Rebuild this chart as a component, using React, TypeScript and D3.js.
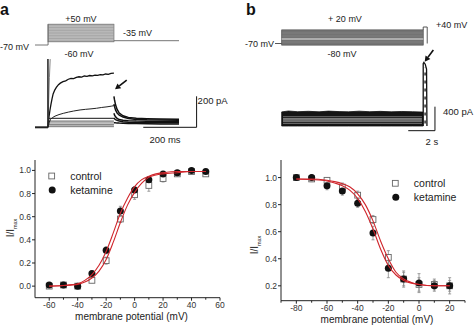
import React from "react";
import * as d3 from "d3";

const FONT = "'Liberation Sans', Arial, Helvetica, sans-serif";

// ---------- Activation curve (panel a, bottom) ----------
const actVoltages = [-60, -50, -40, -30, -20, -10, 0, 10, 20, 30, 40, 50];
const actControl = [0.0, 0.01, 0.0, 0.05, 0.22, 0.58, 0.79, 0.87, 0.93, 0.97, 0.99, 0.97];
const actControlErr = [0.01, 0.01, 0.01, 0.02, 0.03, 0.03, 0.04, 0.05, 0.03, 0.02, 0.01, 0.02];
const actKetamine = [0.01, 0.01, 0.0, 0.11, 0.31, 0.65, 0.83, 0.92, 0.97, 0.98, 1.0, 0.99];
const actKetamineErr = [0.01, 0.01, 0.01, 0.02, 0.03, 0.04, 0.03, 0.02, 0.02, 0.01, 0.01, 0.01];
const actFitVoltages = [-60, -50, -40, -35, -30, -25, -20, -15, -10, -5, 0, 5, 10, 15, 20, 30, 40, 50];
const actFitControl = [0.0, 0.005, 0.015, 0.035, 0.07, 0.13, 0.23, 0.38, 0.55, 0.7, 0.81, 0.89, 0.94, 0.96, 0.97, 0.98, 0.99, 0.99];
const actFitKetamine = [0.0, 0.006, 0.02, 0.05, 0.1, 0.18, 0.3, 0.46, 0.63, 0.76, 0.86, 0.92, 0.95, 0.97, 0.98, 0.99, 0.99, 0.99];
const actXTicks = [-60, -40, -20, 0, 20, 40, 60];
const actXMinor = [-50, -30, -10, 10, 30, 50];
const actYTicks = [0.0, 0.2, 0.4, 0.6, 0.8, 1.0];

// ---------- Inactivation curve (panel b, bottom) ----------
const inactVoltages = [-80, -70, -60, -50, -40, -30, -20, -10, 0, 10, 20];
const inactControl = [1.0, 0.99, 0.98, 0.93, 0.87, 0.69, 0.41, 0.25, 0.21, 0.21, 0.2];
const inactControlErr = [0.01, 0.02, 0.02, 0.03, 0.03, 0.03, 0.05, 0.05, 0.05, 0.04, 0.04];
const inactKetamine = [1.0, 1.0, 0.94, 0.9, 0.81, 0.59, 0.33, 0.25, 0.22, 0.2, 0.2];
const inactKetamineErr = [0.01, 0.02, 0.03, 0.03, 0.03, 0.05, 0.07, 0.06, 0.07, 0.04, 0.06];
const inactFitVoltages = [-80, -70, -60, -55, -50, -45, -40, -35, -30, -25, -20, -15, -10, -5, 0, 10, 20];
const inactFitControl = [0.99, 0.99, 0.98, 0.97, 0.955, 0.93, 0.88, 0.8, 0.68, 0.53, 0.4, 0.3, 0.25, 0.225, 0.21, 0.2, 0.2];
const inactFitKetamine = [0.99, 0.985, 0.975, 0.96, 0.94, 0.905, 0.845, 0.75, 0.62, 0.47, 0.35, 0.28, 0.24, 0.22, 0.21, 0.2, 0.2];
const inactXTicks = [-80, -60, -40, -20, 0, 20];
const inactXMinor = [-90, -70, -50, -30, -10, 10, 30];
const inactYTicks = [0.2, 0.4, 0.6, 0.8, 1.0];

// ---------- Panel a: protocol + current traces ----------
const protoAStepLevels = [-60, -50, -40, -30, -20, -10, 0, 10, 20, 30, 40, 50];
const traceTimes1 = [49, 52, 56, 60, 64, 68, 74, 80, 88, 95, 105, 115, 125, 135, 145, 155, 165, 175, 185, 195, 205, 215, 225, 235, 245, 255, 265, 275, 285, 296];
const trace1 = [0, 60, 110, 150, 185, 215, 240, 258, 275, 285, 295, 300, 310, 316, 314, 322, 326, 324, 331, 329, 334, 332, 337, 335, 340, 338, 344, 342, 348, 350];
const traceTimes2 = [49, 53, 58, 65, 75, 90, 106, 125, 145, 169, 190, 210, 231, 250, 270, 288, 296];
const trace2 = [0, 30, 50, 62, 72, 82, 90, 98, 105, 112, 116, 119, 123, 128, 132, 137, 140];
const fastTimes = [49, 51, 54, 57];
const fastCurrents = [0, 150, 320, 440];
const stepTraceLevels = [58, 40, 28, 18, 10, 4];
const stepTraceColors = ["#111", "#555", "#777", "#888", "#999", "#777"];
const tailTimes = [296, 298, 302, 308, 316, 330, 350, 380, 420, 470, 540];
const tails = [
  [200, 178, 145, 115, 92, 74, 64, 58, 55, 53, 52],
  [150, 135, 112, 92, 78, 66, 57, 51, 48, 47, 46],
  [90, 80, 68, 58, 50, 45, 42, 40, 39, 38, 38],
  [60, 55, 50, 45, 40, 36, 33, 31, 30, 30, 30],
  [30, 30, 29, 28, 27, 26, 25, 24, 23, 22, 22],
];

// ---------- Panel b: protocol + current traces ----------
const protoBStepLevels = [-80, -70, -60, -50, -30, -20, -10, 0, 10, 20];
const bTopTimes = [0, 0.5, 1.2, 2, 2.8, 3.5, 4.3, 5, 5.8, 6.6, 7.4, 8.2, 9, 9.8, 10.6];
const bTop = [235, 250, 238, 245, 236, 248, 240, 236, 247, 238, 244, 236, 242, 238, 232];
const bStripeLevels = [155, 117, 83, 45];
const bStripeColors = ["#777", "#eee", "#ddd", "#888"];
const tailBTimes = [10.6, 10.6, 10.65, 10.75, 10.85, 10.88];
const tailB = [0, 1040, 1060, 1030, 950, 0];

function Arrow({ x1, y1, x2, y2 }: { x1: number; y1: number; x2: number; y2: number }) {
  const a = Math.atan2(y2 - y1, x2 - x1);
  const L = 5.5, W = 3;
  const bx = x2 - L * Math.cos(a), by = y2 - L * Math.sin(a);
  const px = -Math.sin(a) * W, py = Math.cos(a) * W;
  return (
    <g>
      <line x1={x1} y1={y1} x2={bx} y2={by} stroke="#111" strokeWidth={1.6} />
      <polygon points={`${x2},${y2} ${bx + px},${by + py} ${bx - px},${by - py}`} fill="#111" />
    </g>
  );
}

function Chart(props: {
  x: d3.ScaleLinear<number, number>;
  y: d3.ScaleLinear<number, number>;
  xTicks: number[];
  xMinor: number[];
  yTicks: number[];
  volts: number[];
  ctrl: number[];
  ctrlErr: number[];
  ket: number[];
  ketErr: number[];
  fitV: number[];
  fitC: number[];
  fitK: number[];
  legendX: number;
  legendY: number;
  yLabelX: number;
  yLabelY: number;
  titleY: number;
}) {
  const { x, y } = props;
  const [x0, x1] = x.range();
  const [yb, yt] = y.range();
  const line = (vals: number[]) =>
    d3
      .line<number>()
      .x((_, i) => x(props.fitV[i]))
      .y((d) => y(d))
      .curve(d3.curveMonotoneX)(vals) || "";
  const red = "#d0262c";
  const errBars = (vals: number[], errs: number[]) =>
    vals.map((v, i) => {
      const cx = x(props.volts[i]);
      return (
        <g key={i} stroke="#888" strokeWidth={0.8}>
          <line x1={cx} x2={cx} y1={y(v - errs[i])} y2={y(v + errs[i])} />
          <line x1={cx - 1.5} x2={cx + 1.5} y1={y(v - errs[i])} y2={y(v - errs[i])} />
          <line x1={cx - 1.5} x2={cx + 1.5} y1={y(v + errs[i])} y2={y(v + errs[i])} />
        </g>
      );
    });
  const sq = 5.8;
  return (
    <g fontFamily={FONT}>
      {/* axes */}
      <line x1={x0} x2={x0} y1={yt} y2={yb} stroke="#222" strokeWidth={1} />
      <line x1={x0} x2={x1} y1={yb} y2={yb} stroke="#222" strokeWidth={1} />
      {props.yTicks.map((t) => (
        <g key={"y" + t}>
          <line x1={x0 - 3} x2={x0} y1={y(t)} y2={y(t)} stroke="#222" />
          <text x={x0 - 4} y={y(t)} dy="0.35em" textAnchor="end" fontSize={8.5} fill="#333">
            {t.toFixed(1)}
          </text>
        </g>
      ))}
      {props.xTicks.map((t) => (
        <g key={"x" + t}>
          <line x1={x(t)} x2={x(t)} y1={yb} y2={yb + 3} stroke="#222" />
          <text x={x(t)} y={yb + 10.5} textAnchor="middle" fontSize={8.5} fill="#333">
            {t}
          </text>
        </g>
      ))}
      {props.xMinor.map((t) => (
        <line key={"m" + t} x1={x(t)} x2={x(t)} y1={yb} y2={yb + 2} stroke="#222" />
      ))}
      <text x={(x0 + x1) / 2 + 4} y={props.titleY} textAnchor="middle" fontSize={10} fill="#222">
        membrane potential (mV)
      </text>
      <text
        transform={`translate(${props.yLabelX},${props.yLabelY}) rotate(-90)`}
        textAnchor="middle"
        fontSize={10}
        fill="#222"
      >
        I/I<tspan fontSize={5.5} dy="2.5">max</tspan>
      </text>
      {/* data */}
      {errBars(props.ctrl, props.ctrlErr)}
      {errBars(props.ket, props.ketErr)}
      {props.ctrl.map((v, i) => (
        <rect
          key={"c" + i}
          x={x(props.volts[i]) - sq / 2}
          y={y(v) - sq / 2}
          width={sq}
          height={sq}
          fill="#fff"
          stroke="#666"
          strokeWidth={0.9}
        />
      ))}
      {props.ket.map((v, i) => (
        <circle key={"k" + i} cx={x(props.volts[i])} cy={y(v)} r={3.5} fill="#111" />
      ))}
      <path d={line(props.fitC)} fill="none" stroke={red} strokeWidth={1.1} />
      <path d={line(props.fitK)} fill="none" stroke={red} strokeWidth={1.1} />
      {/* legend */}
      <rect
        x={props.legendX - sq / 2}
        y={props.legendY - sq / 2}
        width={sq}
        height={sq}
        fill="#fff"
        stroke="#666"
        strokeWidth={0.9}
      />
      <circle cx={props.legendX + 0.5} cy={props.legendY + 14} r={3.5} fill="#111" />
      <text x={props.legendX + 18.5} y={props.legendY} dy="0.35em" fontSize={10.5} fill="#222">
        control
      </text>
      <text x={props.legendX + 18.5} y={props.legendY + 14} dy="0.35em" fontSize={10.5} fill="#222">
        ketamine
      </text>
    </g>
  );
}

export default function App() {
  // bottom charts
  const xA = d3.scaleLinear().domain([-70, 60]).range([35, 220]);
  const yA = d3.scaleLinear().domain([-0.1, 1.09]).range([297.7, 160]);
  const xB = d3.scaleLinear().domain([-90, 30]).range([281, 465]);
  const yB = d3.scaleLinear().domain([0.09, 1.13]).range([300.7, 160]);

  // panel a traces
  const tA = d3.scaleLinear().domain([0, 540]).range([35, 179]);
  const iA = d3.scaleLinear().domain([0, 200]).range([127.3, 96.3]);
  const vHoldA = d3.scaleLinear().domain([-70, -60, -35, 50]).range([45, 41.7, 40.7, 24.3]);
  const vStepA = d3.scaleLinear().domain([-60, 50]).range([41.7, 24.3]);

  // panel b traces
  const tB = d3.scaleLinear().domain([0, 2]).range([281.7, 308.4]);
  const iB = d3.scaleLinear().domain([0, 400]).range([126, 102]);
  const vB = d3.scaleLinear().domain([-80, 20]).range([45, 30]);

  const lineA = (ts: number[], vs: number[]) =>
    d3
      .line<number>()
      .x((_, i) => tA(ts[i]))
      .y((d) => iA(d))(vs) || "";
  const lineB = (ts: number[], vs: number[]) =>
    d3
      .line<number>()
      .x((_, i) => tB(ts[i]))
      .y((d) => iB(d))(vs) || "";
  const areaBTop =
    d3
      .area<number>()
      .x((_, i) => tB(bTopTimes[i]))
      .y0(iB(0))
      .y1((d) => iB(d))(bTop) || "";

  return (
    <svg
      width={474}
      height={325}
      style={{ position: "absolute", left: 0, top: 0, background: "#fff" }}
      fontFamily={FONT}
    >
      <rect x={0} y={0} width={474} height={325} fill="#fff" />
      {/* panel labels */}
      <text x={0} y={14.5} fontSize={16} fontWeight="bold" fill="#111">a</text>
      <text x={246} y={15} fontSize={16} fontWeight="bold" fill="#111">b</text>

      {/* ===== Panel a protocol ===== */}
      <g>
        <rect
          x={tA(49)}
          y={vStepA(50)}
          width={tA(296) - tA(49)}
          height={vStepA(-60) - vStepA(50)}
          fill="#c9c9c9"
          stroke="#777"
          strokeWidth={0.8}
        />
        {protoAStepLevels.map((v) => (
          <line key={v} x1={tA(49)} x2={tA(296)} y1={vStepA(v)} y2={vStepA(v)} stroke="#8d8d8d" strokeWidth={0.6} />
        ))}
        <path
          d={`M${tA(0)},${vHoldA(-70)}H${tA(49)}V${vStepA(50)}`}
          fill="none"
          stroke="#666"
          strokeWidth={0.9}
        />
        <path d={`M${tA(296)},${vHoldA(-35)}H${tA(540)}`} fill="none" stroke="#666" strokeWidth={0.9} />
        <text x={81} y={22} textAnchor="middle" fontSize={9} fill="#222">+50 mV</text>
        <text x={123} y={35.5} fontSize={9} fill="#222">-35 mV</text>
        <text x={0} y={50} fontSize={9} fill="#222">-70 mV</text>
        <text x={79} y={56.5} textAnchor="middle" fontSize={9} fill="#222">-60 mV</text>
      </g>

      {/* ===== Panel a traces ===== */}
      <g fill="none">
        <path d={lineA([0, 49], [0, 0])} stroke="#222" strokeWidth={2} />
        {stepTraceLevels.map((lv, i) => (
          <path key={i} d={lineA([50, 296], [lv, lv])} stroke={stepTraceColors[i]} strokeWidth={1} />
        ))}
        {tails.map((tl, i) => (
          <path key={"t" + i} d={lineA(tailTimes, tl)} stroke="#111" strokeWidth={1.5} />
        ))}
        <path d={lineA(traceTimes2, trace2)} stroke="#222" strokeWidth={1} />
        <path d={lineA(traceTimes1, trace1)} stroke="#111" strokeWidth={1.3} />
        <path d={lineA(fastTimes, fastCurrents)} stroke="#777" strokeWidth={0.9} />
        <path d={lineA([48.5, 48.5], [0, 440])} stroke="#111" strokeWidth={1.4} />
        {/* scale bars */}
        <path d={lineA([406, 606, 606], [0, 0, 200])} stroke="#111" strokeWidth={1} />
      </g>
      <Arrow x1={tA(344)} y1={iA(305)} x2={tA(300)} y2={iA(245)} />
      <text x={tA(606) + 1} y={iA(200) + 7.5} fontSize={9.5} fill="#222">200 pA</text>
      <text x={165} y={143} textAnchor="middle" fontSize={9.5} fill="#222">200 ms</text>

      {/* ===== Panel b protocol ===== */}
      <g>
        <rect
          x={tB(0)}
          y={vB(20)}
          width={tB(10.6) - tB(0)}
          height={vB(-80) - vB(20)}
          fill="#808080"
          stroke="#555"
          strokeWidth={0.8}
        />
        {protoBStepLevels.map((v) => (
          <line key={v} x1={tB(0)} x2={tB(10.6)} y1={vB(v)} y2={vB(v)} stroke="#6a6a6a" strokeWidth={0.6} />
        ))}
        <line x1={tB(0)} x2={tB(10.6)} y1={vB(-40)} y2={vB(-40)} stroke="#e4e4e4" strokeWidth={0.9} />
        <path
          d={`M${tB(-0.5)},${vB(-70)}H${tB(0)} M${tB(10.6)},${vB(20)}V${vB(40)}H${tB(10.9)}V${vB(-70)}`}
          fill="none"
          stroke="#444"
          strokeWidth={0.9}
        />
        <text x={345} y={21.5} textAnchor="middle" fontSize={9} fill="#222">+ 20 mV</text>
        <text x={436} y={28} fontSize={9} fill="#222">+40 mV</text>
        <text x={245} y={46.5} fontSize={9} fill="#222">-70 mV</text>
        <text x={342} y={56.5} textAnchor="middle" fontSize={9} fill="#222">-80 mV</text>
      </g>

      {/* ===== Panel b traces ===== */}
      <g fill="none">
        <path d={areaBTop} fill="#151515" stroke="#111" strokeWidth={0.8} />
        {bStripeLevels.map((lv, i) => (
          <path key={i} d={lineB([0.1, 10.5], [lv, lv])} stroke={bStripeColors[i]} strokeWidth={0.9} />
        ))}
        <path d={lineB(tailBTimes, tailB)} fill="#fff" stroke="#111" strokeWidth={1.3} />
        <path d={lineB([10.74, 10.74], [40, 980])} stroke="#111" strokeWidth={1.3} strokeDasharray="3,5" />
        <path d={lineB([9.48, 11.48, 11.48], [-78, -78, 322])} stroke="#111" strokeWidth={1} />
      </g>
      <Arrow x1={tB(11.36)} y1={iB(1267)} x2={tB(10.71)} y2={iB(1072)} />
      <text x={443} y={115} fontSize={9.5} fill="#222">400 pA</text>
      <text x={tB(11.25)} y={144.5} textAnchor="middle" fontSize={9.5} fill="#222">2 s</text>

      {/* ===== Bottom charts ===== */}
      <Chart
        x={xA}
        y={yA}
        xTicks={actXTicks}
        xMinor={actXMinor}
        yTicks={actYTicks}
        volts={actVoltages}
        ctrl={actControl}
        ctrlErr={actControlErr}
        ket={actKetamine}
        ketErr={actKetamineErr}
        fitV={actFitVoltages}
        fitC={actFitControl}
        fitK={actFitKetamine}
        legendX={51.7}
        legendY={176}
        yLabelX={14}
        yLabelY={228}
        titleY={319.5}
      />
      <Chart
        x={xB}
        y={yB}
        xTicks={inactXTicks}
        xMinor={inactXMinor}
        yTicks={inactYTicks}
        volts={inactVoltages}
        ctrl={inactControl}
        ctrlErr={inactControlErr}
        ket={inactKetamine}
        ketErr={inactKetamineErr}
        fitV={inactFitVoltages}
        fitC={inactFitControl}
        fitK={inactFitKetamine}
        legendX={395.3}
        legendY={183.3}
        yLabelX={258}
        yLabelY={245}
        titleY={322.5}
      />
    </svg>
  );
}
